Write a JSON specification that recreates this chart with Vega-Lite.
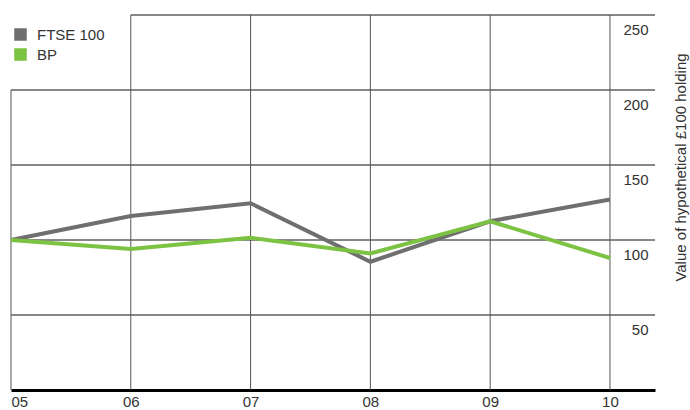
{
  "$schema": "https://vega.github.io/schema/vega-lite/v6.json",
  "width": 644,
  "height": 375,
  "autosize": "none",
  "padding": {"left": 11, "top": 15, "right": 35, "bottom": 20},
  "datasets": {
    "hgrid": [
      {"v": 50, "from": 5, "to": 10.376},
      {"v": 100, "from": 5, "to": 10.376},
      {"v": 150, "from": 5, "to": 10.376},
      {"v": 200, "from": 5, "to": 10.376},
      {"v": 250, "from": 6, "to": 10.376}
    ],
    "vgrid": [
      {"yr": 5, "lo": 0, "hi": 200},
      {"yr": 6, "lo": 0, "hi": 250},
      {"yr": 7, "lo": 0, "hi": 250},
      {"yr": 8, "lo": 0, "hi": 250},
      {"yr": 9, "lo": 0, "hi": 250},
      {"yr": 10, "lo": 0, "hi": 250}
    ],
    "series": [
      {"year": 5, "series": "FTSE 100", "value": 100},
      {"year": 6, "series": "FTSE 100", "value": 116},
      {"year": 7, "series": "FTSE 100", "value": 124.5},
      {"year": 8, "series": "FTSE 100", "value": 85.5},
      {"year": 9, "series": "FTSE 100", "value": 112.5},
      {"year": 10, "series": "FTSE 100", "value": 127},
      {"year": 5, "series": "BP", "value": 100},
      {"year": 6, "series": "BP", "value": 94},
      {"year": 7, "series": "BP", "value": 101.5},
      {"year": 8, "series": "BP", "value": 91},
      {"year": 9, "series": "BP", "value": 112.5},
      {"year": 10, "series": "BP", "value": 88}
    ]
  },
  "layer": [
    {
      "data": {"name": "hgrid"},
      "mark": {"type": "rule", "color": "#111", "strokeWidth": 1},
      "encoding": {
        "y": {"field": "v", "type": "quantitative"},
        "x": {"field": "from", "type": "quantitative"},
        "x2": {"field": "to"}
      }
    },
    {
      "data": {"name": "vgrid"},
      "mark": {"type": "rule", "color": "#555", "strokeWidth": 1},
      "encoding": {
        "x": {"field": "yr", "type": "quantitative"},
        "y": {"field": "lo", "type": "quantitative"},
        "y2": {"field": "hi"}
      }
    },
    {
      "data": {"name": "series"},
      "mark": {"type": "line", "strokeWidth": 4},
      "encoding": {
        "x": {
          "field": "year",
          "type": "quantitative",
          "scale": {"domain": [5, 10.376], "nice": false, "zero": false},
          "axis": {
            "values": [5, 6, 7, 8, 9, 10],
            "format": "02d",
            "title": null,
            "grid": false,
            "ticks": false,
            "domain": true,
            "domainColor": "#000",
            "domainWidth": 3,
            "labelPadding": 4,
            "labelBaseline": "top",
            "labelAlign": {"condition": {"test": "datum.value == 5", "value": "left"}, "value": "center"}
          }
        },
        "y": {
          "field": "value",
          "type": "quantitative",
          "scale": {"domain": [0, 250], "nice": false},
          "axis": {
            "orient": "right",
            "values": [50, 100, 150, 200, 250],
            "grid": false,
            "ticks": false,
            "domain": false,
            "labelAlign": "right",
            "labelBaseline": "top",
            "labelPadding": -7,
            "labelOffset": 7,
            "title": "Value of hypothetical £100 holding",
            "titleAngle": 270,
            "titleX": 25,
            "titleY": 152,
            "titleAlign": "center",
            "titleBaseline": "middle"
          }
        },
        "color": {
          "field": "series",
          "type": "nominal",
          "scale": {"domain": ["FTSE 100", "BP"], "range": ["#6f6f70", "#7cc243"]},
          "legend": {
            "title": null,
            "orient": "none",
            "legendX": 2,
            "legendY": 12,
            "padding": 0,
            "symbolType": "square",
            "symbolSize": 121,
            "rowPadding": 3,
            "labelOffset": 9,
            "encode": {
              "symbols": {
                "update": {
                  "fill": {"scale": "color", "field": "value"},
                  "stroke": {"value": "transparent"}
                }
              }
            }
          }
        }
      }
    }
  ],
  "config": {
    "view": {"stroke": null},
    "font": "Liberation Sans",
    "axis": {
      "labelFont": "Liberation Sans",
      "labelFontSize": 15,
      "labelColor": "#333",
      "titleFont": "Liberation Sans",
      "titleFontSize": 15,
      "titleFontWeight": "normal",
      "titleColor": "#333"
    },
    "legend": {
      "labelFont": "Liberation Sans",
      "labelFontSize": 15,
      "labelColor": "#333"
    }
  }
}
